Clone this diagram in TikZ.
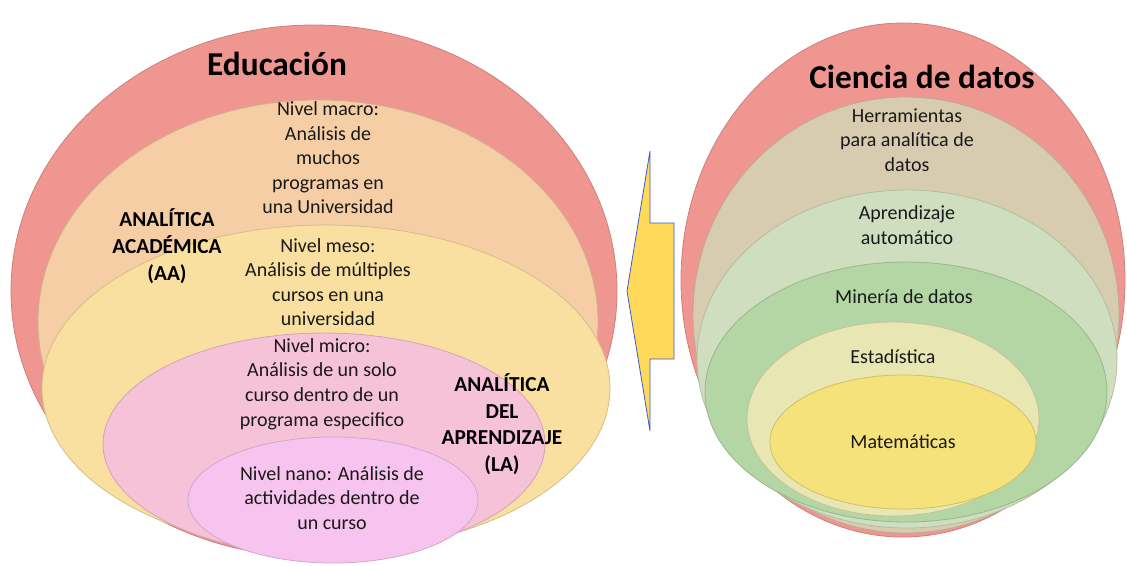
\documentclass[tikz,border=0pt]{standalone}
\usepackage{fontspec}
\setmainfont{Carlito}
\usetikzlibrary{positioning}
\definecolor{rojo}{RGB}{240,150,145}
\definecolor{macro}{RGB}{246,206,165}
\definecolor{meso}{RGB}{249,224,160}
\definecolor{micro}{RGB}{246,194,216}
\definecolor{nano}{RGB}{247,196,240}
\definecolor{herram}{RGB}{216,204,176}
\definecolor{aprend}{RGB}{208,222,192}
\definecolor{mineria}{RGB}{180,214,165}
\definecolor{estad}{RGB}{232,230,178}
\definecolor{matem}{RGB}{246,226,122}
\definecolor{flecha}{RGB}{255,218,90}
\definecolor{borde}{RGB}{60,90,200}
\tikzset{
  capa/.style={fill=#1, draw=#1!85!black, line width=0.6pt},
  texto/.style={align=center, inner sep=0pt, text=black!90, font=\fontsize{15}{18.4}\selectfont},
  etiqueta/.style={align=center, inner sep=0pt, font=\fontsize{16}{20}\selectfont\bfseries},
  titulo/.style={inner sep=0pt, font=\fontsize{25}{28}\selectfont\bfseries}
}
\begin{document}
\begin{tikzpicture}[x=0.75pt,y=-0.75pt]
\useasboundingbox (0,0) rectangle (1127,565);
% educacion
\path[capa=rojo] (314,291) ellipse [x radius=303, y radius=266];
\path[capa=macro] (318,322) ellipse [x radius=280, y radius=222];
\path[capa=meso] (326,388) ellipse [x radius=284, y radius=163];
\path[capa=micro] (324,444) ellipse [x radius=221, y radius=111];
\path[capa=nano] (333,500) ellipse [x radius=145, y radius=63];
\node[titulo] (edu) at (277,64) {Educación};
\node[texto] (nmacro) at (328,158) {Nivel macro:\\Análisis de\\muchos\\programas en\\una Universidad};
\node[texto] (nmeso) at (328,282) {Nivel meso:\\Análisis de múltiples\\cursos en una\\universidad};
\node[texto] (nmicro) at (322,384) {Nivel micro:\\Análisis de un solo\\curso dentro de un\\programa especifico};
\node[texto] (nnano) at (332,498) {Nivel nano: Análisis de\\actividades dentro de\\un curso};
\node[etiqueta] (aa) at (167,246) {ANALÍTICA\\ACADÉMICA\\(AA)};
\node[etiqueta] (la) at (502,424) {ANALÍTICA\\DEL\\APRENDIZAJE\\(LA)};
% flecha
\draw[fill=flecha, draw=borde, line width=0.6pt] (650,151) -- (650,223) -- (674,223) -- (674,359) -- (650,359) -- (650,431) -- (627,291) -- cycle;
% ciencia de datos
\path[capa=rojo] (903,280) ellipse [x radius=222, y radius=257];
\path[capa=herram] (906,315) ellipse [x radius=213, y radius=218];
\path[capa=aprend] (907,359) ellipse [x radius=210, y radius=169];
\path[capa=mineria] (906,392) ellipse [x radius=201, y radius=130];
\path[capa=estad] (893,419) ellipse [x radius=146, y radius=97];
\path[capa=matem] (903,442) ellipse [x radius=133, y radius=67];
\node[titulo] (cd) at (922,77) {Ciencia de datos};
\node[texto] (herr) at (907,140) {Herramientas\\para analítica de\\datos};
\node[texto] (apr) at (907,225) {Aprendizaje\\automático};
\node[texto] (min) at (904,297) {Minería de datos};
\node[texto] (est) at (893,357) {Estadística};
\node[texto] (mat) at (903,442) {Matemáticas};
\end{tikzpicture}
\end{document}
